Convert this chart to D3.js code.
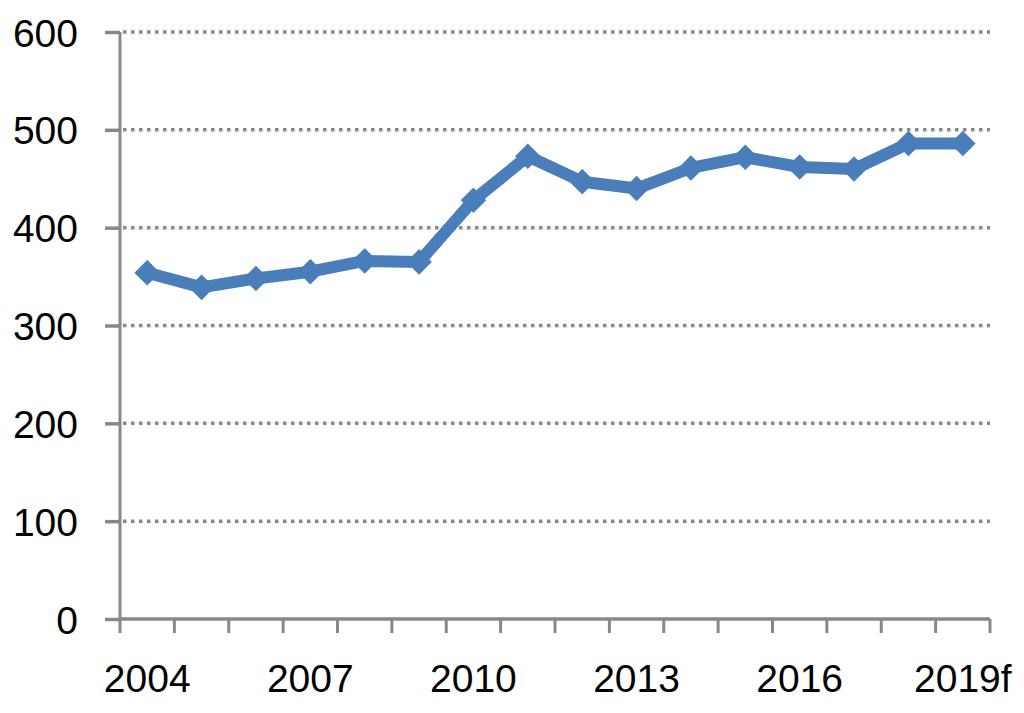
<!DOCTYPE html>
<html>
<head>
<meta charset="utf-8">
<script src="https://cdn.jsdelivr.net/npm/d3@7"></script>
<style>
  body { margin: 0; background: #fff; }
  #chart { width: 1024px; height: 713px; }
  text { font-family: "Liberation Sans", Arial, sans-serif; fill: #000; }
</style>
</head>
<body>
<div id="chart"></div>
<script>
// data
const years = ["2004", "2005", "2006", "2007", "2008", "2009", "2010", "2011",
               "2012", "2013", "2014", "2015", "2016", "2017", "2018", "2019f"];
const values = [354, 339, 348, 355, 366, 365, 428, 473,
                447, 440, 461, 472, 462, 460, 486, 486];
const yTicks = [0, 100, 200, 300, 400, 500, 600];
const xLabels = ["2004", "2007", "2010", "2013", "2016", "2019f"];

const margin = {top: 32, right: 34, bottom: 94, left: 120};
const width = 1024 - margin.left - margin.right;
const height = 713 - margin.top - margin.bottom;

const svg = d3.select("#chart").append("svg")
    .attr("width", 1024)
    .attr("height", 713)
    .append("g")
    .attr("transform", `translate(${margin.left},${margin.top})`);

const x = d3.scaleBand().domain(years).range([0, width]);
const y = d3.scaleLinear().domain([0, 600]).range([height, 0]);

const axisGrey = "#888888";

// dotted gridlines
svg.selectAll(".grid")
    .data(yTicks.filter(d => d > 0))
    .enter().append("line")
    .attr("x1", 3)
    .attr("x2", width)
    .attr("y1", d => y(d))
    .attr("y2", d => y(d))
    .attr("stroke", axisGrey)
    .attr("stroke-width", 3.5)
    .attr("stroke-dasharray", "3.5,4.5");

// y axis
const yAxis = svg.append("g")
    .call(d3.axisLeft(y).tickValues(yTicks).tickSize(15).tickPadding(27));
yAxis.select(".domain").attr("stroke", axisGrey).attr("stroke-width", 3)
    .attr("d", `M0,${height}V0`);
yAxis.selectAll(".tick line").attr("stroke", axisGrey).attr("stroke-width", 3.5);
yAxis.selectAll(".tick text")
    .style("font-size", "39px")
    .attr("dy", "0.36em");

// x axis, ticks between categories
const xAxisG = svg.append("g").attr("transform", `translate(0,${height})`);
xAxisG.append("line")
    .attr("x1", 0).attr("x2", width)
    .attr("stroke", axisGrey).attr("stroke-width", 3.5);
const bounds = years.map(d => x(d)).concat([width]);
xAxisG.selectAll(".xtick")
    .data(bounds)
    .enter().append("line")
    .attr("x1", d => d).attr("x2", d => d)
    .attr("y1", 0).attr("y2", 14)
    .attr("stroke", axisGrey).attr("stroke-width", 3);
xAxisG.selectAll(".xlabel")
    .data(xLabels)
    .enter().append("text")
    .attr("x", d => x(d) + x.bandwidth() / 2)
    .attr("y", 73)
    .attr("text-anchor", "middle")
    .style("font-size", "39px")
    .text(d => d);

// line
const line = d3.line()
    .x((d, i) => x(years[i]) + x.bandwidth() / 2)
    .y(d => y(d));

svg.append("path")
    .datum(values)
    .attr("fill", "none")
    .attr("stroke", "#4a7ebb")
    .attr("stroke-width", 12)
    .attr("stroke-linejoin", "round")
    .attr("d", line);

// diamond markers
svg.selectAll(".marker")
    .data(values)
    .enter().append("path")
    .attr("transform", (d, i) => `translate(${x(years[i]) + x.bandwidth() / 2},${y(d)})`)
    .attr("d", d3.symbol().type(d3.symbolDiamond2).size(330))
    .attr("fill", "#4a7ebb")
    .attr("stroke", "#4a7ebb")
    .attr("stroke-width", 2);
</script>
</body>
</html>
